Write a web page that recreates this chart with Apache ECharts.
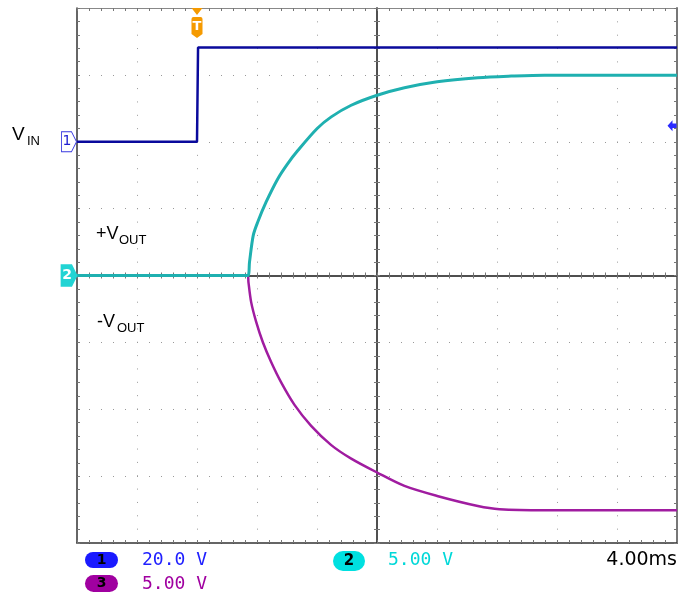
<!DOCTYPE html>
<html><head><meta charset="utf-8">
<script src="https://cdn.jsdelivr.net/npm/echarts@6.0.0/dist/echarts.min.js"></script>
<style>html,body{margin:0;padding:0;background:#fff}#c{width:694px;height:596px}</style>
</head><body><div id="c"></div>
<script>
// ---- screen scales ----
const timeMin = -20, timeMax = 20, timePerDiv = 4;          // ms, 4.00 ms/div, 0 = screen centre
const ch23Min = -20, ch23Max = 20, ch23PerDiv = 5;           // V, 5.00 V/div, ground at centre
const ch1Min = -120, ch1Max = 40, ch1PerDiv = 20;            // V, 20.0 V/div, ground 2 div above centre
const triggerTime = -12;                                     // ms
const triggerLevel = 4.8;                                    // V (CH1)

// ---- CH1 : VIN ----
const ch1Time = [-20, -12, -11.93, 20];
const ch1Volt = [0, 0, 28.2, 28.2];

// ---- CH2 : +VOUT ----
const ch2Time = [-20, -8.61, -8.5, -8.25, -7.95, -7.39, -6.61, -5.95, -5.28, -3.99, -3.05, -1.72, 0.01, 1.83, 4.01, 6.72, 8.95, 11.17, 20];
const ch2Volt = [0, 0, 1.0, 3.0, 4.0, 5.5, 7.24, 8.37, 9.34, 10.99, 11.86, 12.73, 13.48, 14.04, 14.49, 14.79, 14.91, 14.98, 14.98];

// ---- CH3 : -VOUT ----
const ch3Time = [-20, -8.61, -8.57, -8.39, -8.05, -7.61, -7.05, -6.39, -5.5, -4.39, -3.05, -1.72, 0.01, 1.83, 4.01, 6.72, 8.17, 11.17, 20];
const ch3Volt = [0, 0, -0.49, -1.99, -3.49, -4.99, -6.49, -7.99, -9.67, -11.24, -12.68, -13.69, -14.73, -15.73, -16.48, -17.23, -17.47, -17.55, -17.55];

// ---- readout labels ----
const ch1Scale = '20.0 V', ch2Scale = '5.00 V', ch3Scale = '5.00 V', timeScale = '4.00ms';

const zip = (a, b) => a.map((v, i) => [v, b[i]]);

const tickStyle = {color: '#777', width: 1};
function tick(inside) { return {show: true, inside: inside, length: 3, lineStyle: tickStyle}; }
function minor(inside) { return {show: true, splitNumber: 5, length: 3, lineStyle: tickStyle}; }

function xAx(o) {
  return Object.assign({type: 'value', min: timeMin, max: timeMax, interval: timePerDiv,
    axisLabel: {show: false}, splitLine: {show: false}}, o);
}
function yAx(o) {
  return Object.assign({type: 'value', min: ch23Min, max: ch23Max, interval: ch23PerDiv,
    axisLabel: {show: false}, splitLine: {show: false}}, o);
}

const centreLine = {color: '#444', width: 1.5};

const option = {
  backgroundColor: '#fff',
  animation: false,
  grid: {left: 77, top: 8, width: 600, height: 535},
  xAxis: [
    xAx({position: 'bottom', axisLine: {show: true, onZero: false, lineStyle: {color: '#333', width: 1.5}},
      axisTick: tick(true), minorTick: minor(true),
      splitLine: {show: true, lineStyle: {color: '#999', width: 1, type: [1, 12.35]}}}),
    xAx({position: 'top', axisLine: {show: true, onZero: false, lineStyle: {color: '#888', width: 1}},
      axisTick: tick(true), minorTick: minor(true)}),
    xAx({position: 'bottom', axisLine: {show: true, onZero: true, onZeroAxisIndex: 0, lineStyle: centreLine},
      axisTick: tick(false), minorTick: minor(false)}),
    xAx({position: 'top', axisLine: {show: true, onZero: true, onZeroAxisIndex: 0, lineStyle: centreLine},
      axisTick: tick(false), minorTick: minor(false)})
  ],
  yAxis: [
    yAx({position: 'left', axisLine: {show: true, onZero: false, lineStyle: {color: '#333', width: 1.5}},
      axisTick: tick(true), minorTick: minor(true),
      splitLine: {show: true, lineStyle: {color: '#999', width: 1, type: [1, 11]}}}),
    {type: 'value', min: ch1Min, max: ch1Max, interval: ch1PerDiv, show: false},
    yAx({position: 'right', axisLine: {show: true, onZero: false, lineStyle: {color: '#777', width: 2}},
      axisTick: tick(true), minorTick: minor(true)}),
    yAx({position: 'left', axisLine: {show: true, onZero: true, onZeroAxisIndex: 0, lineStyle: centreLine},
      axisTick: tick(false), minorTick: minor(false)}),
    yAx({position: 'right', axisLine: {show: true, onZero: true, onZeroAxisIndex: 0, lineStyle: centreLine},
      axisTick: tick(false), minorTick: minor(false)})
  ],
  series: [
    {
      name: 'CH3', type: 'line', xAxisIndex: 0, yAxisIndex: 0, data: zip(ch3Time, ch3Volt),
      smooth: 0.3,
      showSymbol: false, lineStyle: {color: '#a01ca0', width: 2.5}, itemStyle: {color: '#a01ca0'}, z: 3
    },
    {
      name: 'CH2', type: 'line', xAxisIndex: 0, yAxisIndex: 0, data: zip(ch2Time, ch2Volt),
      smooth: 0.3,
      showSymbol: false, lineStyle: {color: '#1fb0b0', width: 3}, itemStyle: {color: '#1fb0b0'}, z: 4,
      markPoint: {
        silent: true, animation: false,
        data: [{
          coord: [timeMin, 0], symbol: 'path://M0,0 L10,0 L15,10 L10,20 L0,20 Z', symbolSize: [15, 20],
          symbolOffset: [-8, 0], itemStyle: {color: '#22d4d4', borderColor: '#22d4d4'},
          label: {show: true, formatter: '2', color: '#fff', fontSize: 14, fontWeight: 'bold',
            fontFamily: 'DejaVu Sans', offset: [-2, 0]}
        }]
      }
    },
    {
      name: 'CH1', type: 'line', xAxisIndex: 0, yAxisIndex: 1, data: zip(ch1Time, ch1Volt),
      showSymbol: false, lineStyle: {color: '#0a0a9c', width: 2.5}, itemStyle: {color: '#0a0a9c'}, z: 5,
      markPoint: {
        silent: true, animation: false,
        data: [
          {
            coord: [timeMin, 0], symbol: 'path://M0,0 L10,0 L15,10 L10,20 L0,20 Z', symbolSize: [15, 20],
            symbolOffset: [-8, 0], itemStyle: {color: '#fff', borderColor: '#3838e0', borderWidth: 1},
            label: {show: true, formatter: '1', color: '#2020d0', fontSize: 14,
              fontFamily: 'DejaVu Sans', offset: [-2, 0]}
          },
          {
            coord: [triggerTime, ch1Max],
            symbol: 'path://M0,0 L11,0 L5.5,7 Z M0,11 Q0,9 2,9 L9,9 Q11,9 11,11 L11,26 L5.5,30 L0,26 Z',
            symbolSize: [11, 30], symbolOffset: [0, '50%'], itemStyle: {color: '#f59a00'},
            label: {show: true, formatter: 'T', color: '#fff', fontSize: 13, fontWeight: 'bold',
              fontFamily: 'DejaVu Sans', offset: [0, 4]}
          },
          {
            coord: [timeMax, triggerLevel],
            symbol: 'path://M0,5 L5,0 L5,3 L9,3 L9,7 L5,7 L5,10 Z',
            symbolSize: [9, 11], symbolOffset: [-5, 0], itemStyle: {color: '#2a2aff'},
            label: {show: false}
          }
        ]
      }
    }
  ],
  graphic: [
    // trace annotations
    {type: 'text', style: {text: 'V', x: 12, y: 135, font: '19px "Liberation Sans"', fill: '#000', verticalAlign: 'middle'}},
    {type: 'text', style: {text: 'IN', x: 27, y: 141, font: '13px "Liberation Sans"', fill: '#000', verticalAlign: 'middle'}},
    {type: 'text', style: {text: '+V', x: 96, y: 234, font: '18px "Liberation Sans"', fill: '#000', verticalAlign: 'middle'}},
    {type: 'text', style: {text: 'OUT', x: 119, y: 240, font: '13px "Liberation Sans"', fill: '#000', verticalAlign: 'middle'}},
    {type: 'text', style: {text: '-V', x: 97, y: 322, font: '18px "Liberation Sans"', fill: '#000', verticalAlign: 'middle'}},
    {type: 'text', style: {text: 'OUT', x: 117, y: 328, font: '13px "Liberation Sans"', fill: '#000', verticalAlign: 'middle'}},
    // readout
    {type: 'rect', shape: {x: 85, y: 552, width: 33, height: 16, r: 8}, style: {fill: '#1a1aff'}},
    {type: 'text', style: {text: '1', x: 101.5, y: 560, font: 'bold 14px "DejaVu Sans"', fill: '#000', align: 'center', verticalAlign: 'middle'}},
    {type: 'text', style: {text: ch1Scale, x: 142, y: 560, font: '18px "DejaVu Sans Mono"', fill: '#2020ff', verticalAlign: 'middle'}},
    {type: 'rect', shape: {x: 85, y: 575, width: 33, height: 17, r: 8.5}, style: {fill: '#a000a0'}},
    {type: 'text', style: {text: '3', x: 101.5, y: 583.5, font: 'bold 14px "DejaVu Sans"', fill: '#000', align: 'center', verticalAlign: 'middle'}},
    {type: 'text', style: {text: ch3Scale, x: 142, y: 584, font: '18px "DejaVu Sans Mono"', fill: '#a000a0', verticalAlign: 'middle'}},
    {type: 'rect', shape: {x: 333, y: 551, width: 32, height: 20, r: 10}, style: {fill: '#00e0e0'}},
    {type: 'text', style: {text: '2', x: 349, y: 561, font: 'bold 15px "DejaVu Sans"', fill: '#000', align: 'center', verticalAlign: 'middle'}},
    {type: 'text', style: {text: ch2Scale, x: 388, y: 560, font: '18px "DejaVu Sans Mono"', fill: '#00d8d8', verticalAlign: 'middle'}},
    {type: 'text', style: {text: timeScale, x: 677, y: 560, font: '19px "DejaVu Sans"', fill: '#000', align: 'right', verticalAlign: 'middle'}}
  ]
};

const chart = echarts.init(document.getElementById('c'));
chart.setOption(option);
</script>
</body></html>
